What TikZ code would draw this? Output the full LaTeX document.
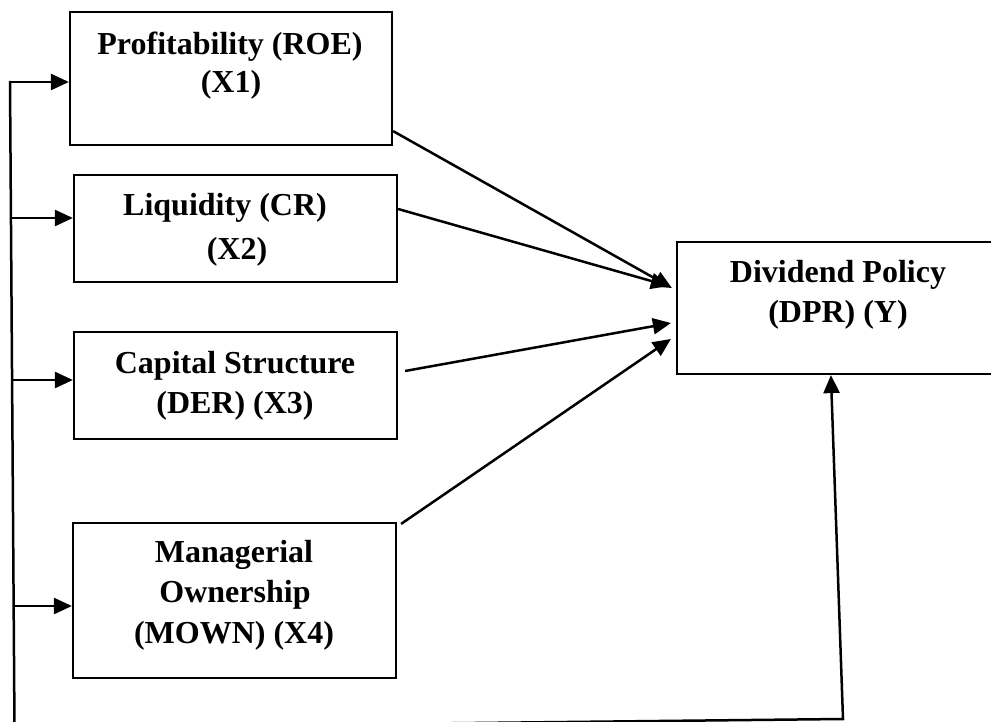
\documentclass[tikz,border=0pt]{standalone}
\usepackage{fontspec}
\setmainfont{Liberation Serif}
\usetikzlibrary{arrows.meta,calc}
\begin{document}
\begin{tikzpicture}[x=1pt,y=-1pt,
  box/.style={draw=black, line width=2.2pt, rectangle, inner sep=0pt},
  conn/.style={line width=2.5pt, -{Triangle[length=18pt,width=16pt]}},
  txt/.style={anchor=base, font=\bfseries\fontsize{32}{38}\selectfont, inner sep=0pt}]
\useasboundingbox (0,0) rectangle (991,722);
\clip (0,0) rectangle (991,722);
\fill[white] (0,0) rectangle (991,722);
% boxes
\node[box, minimum width=322pt, minimum height=133pt] (X1) at (231,78.5) {};
\node[box, minimum width=323pt, minimum height=107pt] (X2) at (235.5,228.5) {};
\node[box, minimum width=323pt, minimum height=107pt] (X3) at (235.5,385.5) {};
\node[box, minimum width=323pt, minimum height=155pt] (X4) at (234.5,600.5) {};
\node[box, minimum width=333pt, minimum height=132pt] (Y) at (843.5,308) {};
% texts
\node[txt] (t1a) at (230,55) {Profitability (ROE)};
\node[txt] (t1b) at (231,93) {(X1)};
\node[txt] (t2a) at (225,216) {Liquidity (CR)};
\node[txt] (t2b) at (237,260) {(X2)};
\node[txt] (t3a) at (235,373) {Capital Structure};
\node[txt] (t3b) at (235,413) {(DER) (X3)};
\node[txt] (t4a) at (234,562) {Managerial};
\node[txt] (t4b) at (235,602) {Ownership};
\node[txt] (t4c) at (234,643) {(MOWN) (X4)};
\node[txt] (ya) at (838,283) {Dividend Policy};
\node[txt] (yb) at (838,322) {(DPR) (Y)};
% left feedback line
\coordinate (L1) at (10,81);
\coordinate (LB) at (14.5,728);
\coordinate (RB) at (843,719);
\coordinate (a1) at (10,82);
\coordinate (a2) at (11,218);
\coordinate (a3) at (12,380);
\coordinate (a4) at (13.5,606);
\draw[conn] (L1) -- (LB) -- (RB) -- ($(Y.south west)+(155,0)$);
\draw[conn] (a1) -- (a1 -| X1.west);
\draw[conn] (a2) -- (a2 -| X2.west);
\draw[conn] (a3) -- (a3 -| X3.west);
\draw[conn] (a4) -- (a4 -| X4.west);
% diagonal arrows
\draw[conn] ($(X1.south east)+(0,-15)$) -- ($(Y.west)+(-4,-20)$);
\draw[conn] ($(X2.east)+(0,-19.5)$) -- ($(Y.west)+(-7,-22)$);
\draw[conn] ($(X3.east)+(7,-14.5)$) -- ($(Y.west)+(-5,15)$);
\draw[conn] ($(X4.north east)+(4,2)$) -- ($(Y.west)+(-5,31)$);
\end{tikzpicture}
\end{document}
